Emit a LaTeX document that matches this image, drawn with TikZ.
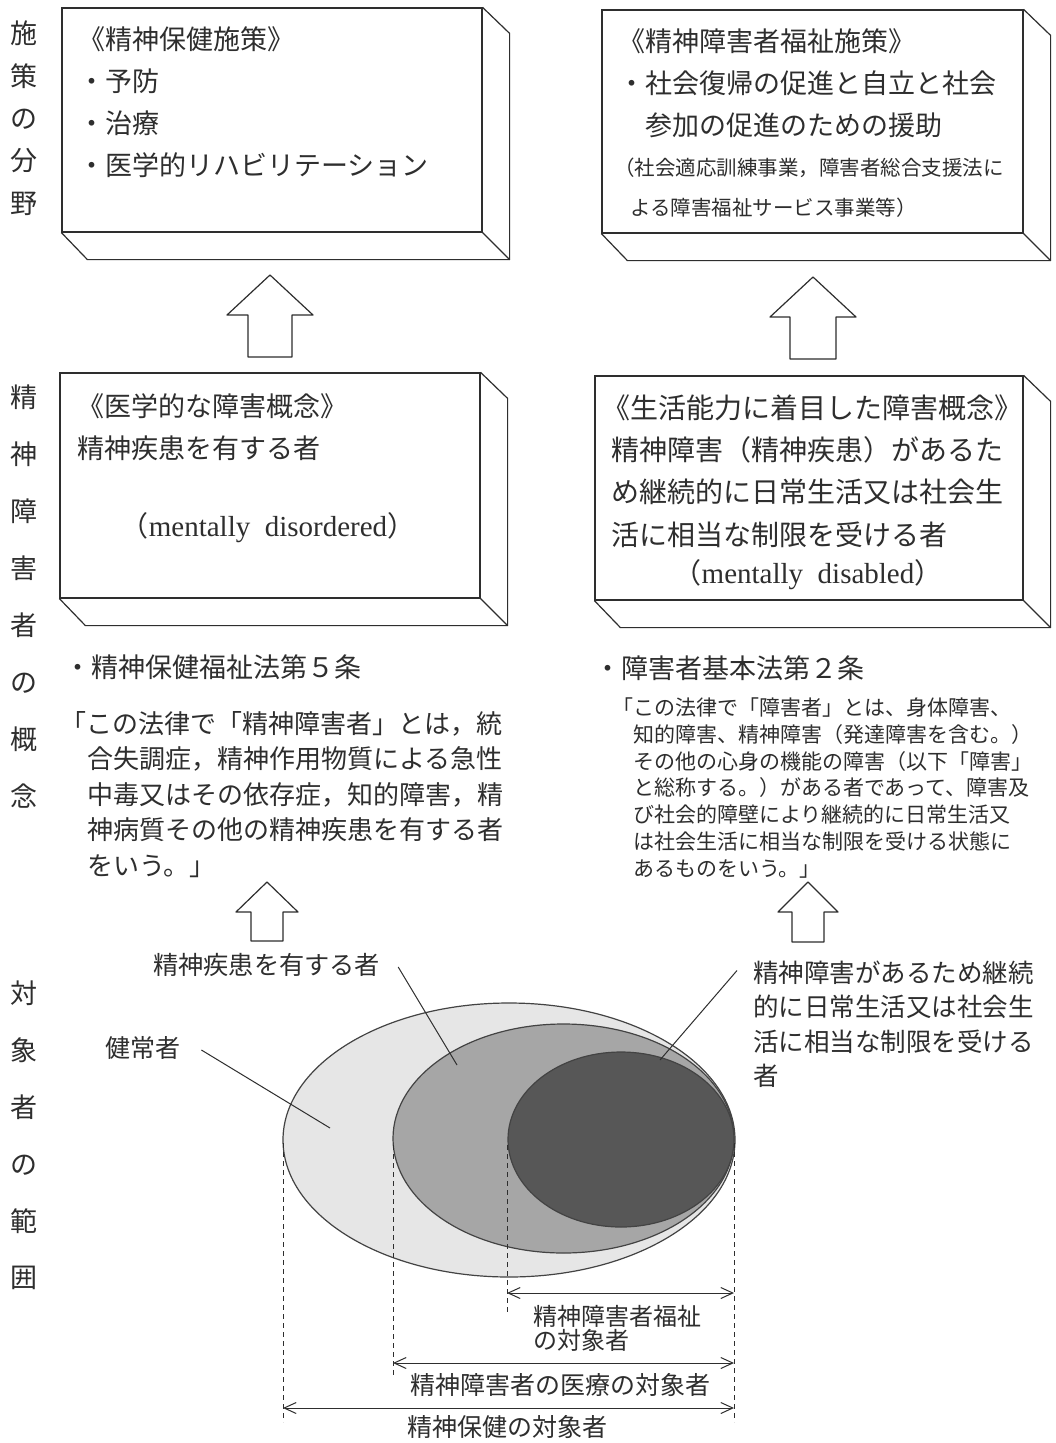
\documentclass[tikz,border=0pt]{standalone}
\usepackage{fontspec}
\setmainfont{Liberation Serif}
\newfontfamily\jp{Noto Sans CJK JP}
\newfontfamily\lat{Liberation Serif}
\usetikzlibrary{arrows.meta,calc}
\newcommand\fs[2]{\fontsize{#1}{#2}\selectfont}
\definecolor{ink}{HTML}{2E2E2E}
\definecolor{lightfill}{HTML}{E6E6E6}
\definecolor{midfill}{HTML}{A6A6A6}
\definecolor{darkfill}{HTML}{575757}
\tikzset{
  inkline/.style={draw=ink, line width=1.2pt, line join=round},
  slabfront/.style={draw=ink, line width=1.2pt, inner sep=0pt, fill=white},
  txt/.style={inner sep=0pt, anchor=north west, align=left, text=ink},
  onel/.style={inner sep=0pt, anchor=west, text=ink},
  vlab/.style={inner sep=0pt, anchor=north, align=center, text=ink},
  ell/.style={draw=ink!90, line width=1.2pt},
  dashln/.style={draw=ink, line width=1pt, dash pattern=on 5pt off 4pt},
  dimarr/.style={draw=ink, line width=1pt, {Straight Barb[length=12pt,width=11pt]}-{Straight Barb[length=12pt,width=11pt]}},
  leader/.style={draw=ink, line width=1pt},
  pics/hollowup/.style n args={4}{code={
    \draw[inkline, fill=white] (0,0) -- (#3,#2) -- (#4,#2) -- (#4,#1) -- (-#4,#1) -- (-#4,#2) -- (-#3,#2) -- cycle;}}
}
\begin{document}
\begin{tikzpicture}[x=1pt,y=-1pt]
\path[fill=white, use as bounding box] (0,0) rectangle (1055,1443);

% vertical side labels
\node[vlab, font={\jp\fs{27}{42.3}}] (v1) at (24,21) {施\\策\\の\\分\\野};
\node[vlab, font={\jp\fs{27}{57}}] (v2) at (24,385) {精\\神\\障\\害\\者\\の\\概\\念};
\node[vlab, font={\jp\fs{27}{56.8}}] (v3) at (24,981) {対\\象\\者\\の\\範\\囲};

% slab boxes
\node[slabfront, minimum width=420pt, minimum height=224pt] (b1) at (272,120) {};
\node[slabfront, minimum width=421pt, minimum height=223pt] (b2) at (812.5,121.5) {};
\node[slabfront, minimum width=420pt, minimum height=225pt] (b3) at (270,485.5) {};
\node[slabfront, minimum width=428pt, minimum height=224pt] (b4) at (809,488) {};
\foreach \b in {b1,b2,b3,b4}{
  \draw[inkline] (\b.north east) -- ++(27,26) |- ($(\b.south west)+(26,27)$) -- (\b.south west);
  \draw[inkline] (\b.south east) -- ++(27,27);
}

% box texts
\node[txt, font={\jp\fs{27}{42}}] (t1) at (78,26) {《精神保健施策》\\・予防\\・治療\\・医学的リハビリテーション};
\node[txt, font={\jp\fs{27}{42}}] (t2) at (618,28) {《精神障害者福祉施策》\\・社会復帰の促進と自立と社会\\\hspace*{1em}参加の促進のための援助};
\node[txt, font={\jp\fs{20.5}{40}}] (t2s) at (614,158) {（社会適応訓練事業，障害者総合支援法に\\\hspace*{0.8em}よる障害福祉サービス事業等）};
\node[txt, font={\jp\fs{27}{42}}] (t3) at (77,393) {《医学的な障害概念》\\精神疾患を有する者};
\node[inner sep=0pt, text=ink, font={\jp\fs{28}{30}}] (t3e) at (268,528) {（{\lat\fs{29}{30}mentally\ \ disordered}）};
\node[txt, font={\jp\fs{28}{42.3}}] (t4) at (611,394.4) {\hspace*{-0.3em}《生活能力に着目した障害概念》\\精神障害（精神疾患）があるた\\め継続的に日常生活又は社会生\\活に相当な制限を受ける者};
\node[inner sep=0pt, text=ink, font={\jp\fs{28}{30}}] (t4e) at (808,575) {（{\lat\fs{29}{30}mentally\ \ disabled}）};

% hollow arrows
\pic at (270,275) {hollowup={82}{40}{43}{22}};
\pic at (813,277) {hollowup={82}{40}{43}{23}};
\pic at (267,882) {hollowup={59}{30}{31}{16}};
\pic at (808,882) {hollowup={60}{30}{30}{16}};

% law texts
\node[onel, font={\jp\fs{27}{30}}] (l1) at (64,667) {・精神保健福祉法第５条};
\node[txt, font={\jp\fs{26}{35.5}}] (q1) at (60,711) {「この法律で「精神障害者」とは，統\\\hspace*{1.05em}合失調症，精神作用物質による急性\\\hspace*{1.05em}中毒又はその依存症，知的障害，精\\\hspace*{1.05em}神病質その他の精神疾患を有する者\\\hspace*{1.05em}をいう。」};
\node[onel, font={\jp\fs{27}{30}}] (l2) at (594,668) {・障害者基本法第２条};
\node[txt, font={\jp\fs{21}{26.8}}] (q2) at (612,697.5) {「この法律で「障害者」とは、身体障害、\\\hspace*{1em}知的障害、精神障害（発達障害を含む。）\\\hspace*{1em}その他の心身の機能の障害（以下「障害」\\\hspace*{1em}と総称する。）がある者であって、障害及\\\hspace*{1em}び社会的障壁により継続的に日常生活又\\\hspace*{1em}は社会生活に相当な制限を受ける状態に\\\hspace*{1em}あるものをいう。」};

% ellipses
\draw[ell, fill=lightfill] (509,1140) ellipse [x radius=226pt, y radius=137pt];
\draw[ell, fill=midfill] (563.5,1138.5) ellipse [x radius=170.5pt, y radius=114.5pt];
\draw[ell, fill=darkfill] (621,1139.5) ellipse [x radius=113pt, y radius=87.5pt];

% labels around ellipses
\node[onel, font={\jp\fs{25.2}{30}}] (lab1) at (153,965) {精神疾患を有する者};
\node[onel, font={\jp\fs{25}{30}}] (lab2) at (105,1048) {健常者};
\node[txt, font={\jp\fs{25.5}{34.5}}] (lab3) at (753,960.5) {精神障害があるため継続\\的に日常生活又は社会生\\活に相当な制限を受ける\\者};
\coordinate (k1) at (457,1065);
\coordinate (k2) at (330,1128);
\coordinate (k3) at (660,1060);
\draw[leader] ($(lab1.east)+(18,2)$) -- (k1);
\draw[leader] ($(lab2.east)+(21,2)$) -- (k2);
\draw[leader] ($(lab3.north west)+(-16,10)$) -- (k3);

% dashed extension lines
\coordinate (d1t) at (283,1143); \coordinate (d1b) at (283,1422);
\coordinate (d2t) at (393,1145); \coordinate (d2b) at (393,1377);
\coordinate (d3t) at (507,1145); \coordinate (d3b) at (507,1312);
\coordinate (d4t) at (734,1143); \coordinate (d4b) at (734,1422);
\foreach \d in {1,2,3,4}{\draw[dashln] (d\d t) -- (d\d b);}

% dimension arrows
\coordinate (w1) at (507,1293); \coordinate (w2) at (734,1293);
\coordinate (m1) at (393,1363); \coordinate (m2) at (734,1363);
\coordinate (h1) at (283,1408); \coordinate (h2) at (734,1408);
\draw[dimarr] (w1) -- (w2);
\draw[dimarr] (m1) -- (m2);
\draw[dimarr] (h1) -- (h2);

\node[txt, font={\jp\fs{24}{24.5}}] (lab4) at (533,1305) {精神障害者福祉\\の対象者};
\node[onel, font={\jp\fs{25}{30}}] (lab5) at (410,1385) {精神障害者の医療の対象者};
\node[onel, font={\jp\fs{25}{30}}] (lab6) at (407,1427) {精神保健の対象者};
\end{tikzpicture}
\end{document}
